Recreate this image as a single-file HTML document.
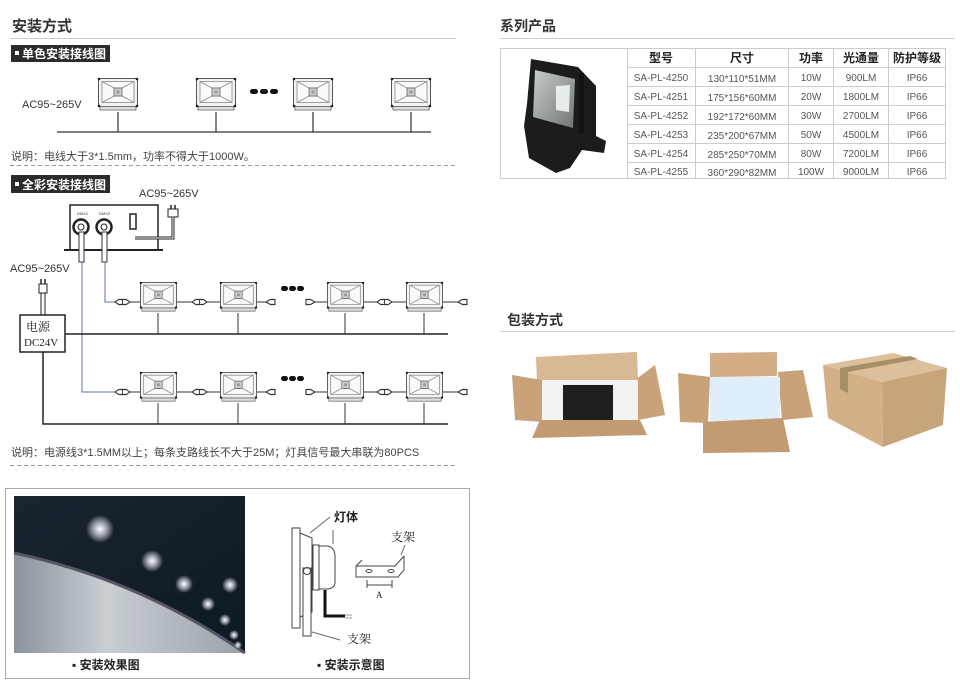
<!DOCTYPE html>
<html><head><meta charset="utf-8"><style>
body{margin:0;background:#fff;}
svg{display:block;font-family:"Liberation Sans","Noto Sans CJK SC",sans-serif;}
</style></head><body>
<svg width="960" height="691" viewBox="0 0 960 691" xmlns="http://www.w3.org/2000/svg">
<defs>
<symbol id="lamp" viewBox="0 0 40 34" overflow="visible" preserveAspectRatio="none">
<rect x="0.5" y="0.5" width="39" height="28" fill="#f3f3f3" stroke="#555" stroke-width="1"/>
<rect x="2" y="28.5" width="36" height="3.5" fill="#ddd" stroke="#666" stroke-width="0.8"/>
<rect x="4" y="3.5" width="32" height="21" fill="#fafafa" stroke="#888" stroke-width="0.8"/>
<path d="M4 3.5 L16 10 L24 10 L36 3.5 M4 24.5 L16 18 L24 18 L36 24.5" stroke="#888" stroke-width="0.8" fill="none"/>
<rect x="16" y="10" width="8" height="8" fill="#ccc" stroke="#666" stroke-width="0.8"/>
<rect x="18.5" y="12.5" width="3" height="3" fill="#999"/>
<circle cx="1" cy="1" r="1.3" fill="#222"/><circle cx="39" cy="1" r="1.3" fill="#222"/>
<circle cx="1" cy="28" r="1.3" fill="#222"/><circle cx="39" cy="28" r="1.3" fill="#222"/>
</symbol>
<symbol id="conn" viewBox="0 0 20 6" overflow="visible" preserveAspectRatio="none">
<path d="M0 3 L5 0.5 L15 0.5 L20 3 L15 5.5 L5 5.5 Z" fill="#fff" stroke="#333" stroke-width="1.2"/>
<line x1="10" y1="0.5" x2="10" y2="5.5" stroke="#333" stroke-width="1.2"/>
</symbol>
<symbol id="half" viewBox="0 0 10 6" overflow="visible" preserveAspectRatio="none">
<path d="M0 3 L5 0.5 L10 0.5 L10 5.5 L5 5.5 Z" fill="#fff" stroke="#333" stroke-width="1.2"/>
</symbol>
<linearGradient id="tun" x1="0" y1="0" x2="1" y2="1"><stop offset="0" stop-color="#1a2430"/><stop offset="1" stop-color="#0d1a22"/></linearGradient>
<linearGradient id="wall" x1="0" y1="0" x2="1" y2="0"><stop offset="0" stop-color="#8a949c"/><stop offset="0.4" stop-color="#c8ced2"/><stop offset="1" stop-color="#9aa2a8"/></linearGradient>
<radialGradient id="glow"><stop offset="0" stop-color="#fff"/><stop offset="0.4" stop-color="#eef" stop-opacity="0.7"/><stop offset="1" stop-color="#fff" stop-opacity="0"/></radialGradient>
<linearGradient id="refl" x1="0" y1="0" x2="1" y2="1"><stop offset="0" stop-color="#c8cccc"/><stop offset="1" stop-color="#6f7575"/></linearGradient>
</defs>

<text x="12" y="31" font-size="15" font-weight="bold" fill="#333">安装方式</text>
<line x1="10" y1="38.5" x2="456" y2="38.5" stroke="#ccc"/>
<rect x="11" y="45" width="99" height="17" fill="#2b2b2b"/>
<rect x="15" y="51" width="4" height="4" fill="#fff"/>
<text x="22" y="58" font-size="12" font-weight="bold" fill="#fff">单色安装接线图</text>

<text x="22" y="108" font-size="11" fill="#333">AC95~265V</text>
<use href="#lamp" x="98" y="78" width="40" height="34"/>
<use href="#lamp" x="196" y="78" width="40" height="34"/>
<use href="#lamp" x="293" y="78" width="40" height="34"/>
<use href="#lamp" x="391" y="78" width="40" height="34"/>
<g stroke="#333" stroke-width="1.2">
<line x1="57" y1="132" x2="431" y2="132"/>
<line x1="118" y1="112" x2="118" y2="132"/><line x1="216" y1="112" x2="216" y2="132"/>
<line x1="313" y1="112" x2="313" y2="132"/><line x1="411" y1="112" x2="411" y2="132"/>
</g>
<g fill="#111"><rect x="250" y="89" width="8" height="5" rx="2.5"/><rect x="260" y="89" width="8" height="5" rx="2.5"/><rect x="270" y="89" width="8" height="5" rx="2.5"/></g>
<text x="11" y="160" font-size="11" fill="#444">说明：电线大于3*1.5mm，功率不得大于1000W。</text>
<line x1="10" y1="165.5" x2="455" y2="165.5" stroke="#999" stroke-dasharray="4,3"/>

<rect x="11" y="175" width="99" height="18" fill="#2b2b2b"/>
<rect x="15" y="182" width="4" height="4" fill="#fff"/>
<text x="22" y="189" font-size="12" font-weight="bold" fill="#fff">全彩安装接线图</text>
<text x="139" y="197" font-size="11" fill="#333">AC95~265V</text>

<rect x="70" y="205" width="88" height="45" fill="#fff" stroke="#222" stroke-width="1.5"/>
<line x1="64" y1="250" x2="163" y2="250" stroke="#222" stroke-width="2"/>
<text x="77" y="215" font-size="4" fill="#333">DMX1</text><text x="99" y="215" font-size="4" fill="#333">DMX2</text>
<circle cx="81" cy="227" r="7.5" fill="#fff" stroke="#222" stroke-width="2.5"/><circle cx="81" cy="227" r="3" fill="#fff" stroke="#222"/>
<circle cx="104" cy="227" r="7.5" fill="#fff" stroke="#222" stroke-width="2.5"/><circle cx="104" cy="227" r="3" fill="#fff" stroke="#222"/>
<rect x="130" y="214" width="6" height="15" fill="#fff" stroke="#222" stroke-width="1.5"/>
<path d="M171 205 v4 M175 205 v4" stroke="#222" stroke-width="1.5"/>
<rect x="168" y="209" width="10" height="8" fill="#fff" stroke="#222"/>
<path d="M173 217 V238 H135" stroke="#222" stroke-width="3" fill="none"/>
<path d="M173 217 V238 H135" stroke="#fff" stroke-width="1" fill="none"/>
<rect x="79" y="232" width="5" height="30" fill="#fff" stroke="#333"/>
<rect x="102" y="232" width="5" height="30" fill="#fff" stroke="#333"/>
<path d="M105 262 V302 H117" stroke="#6070b0" fill="none"/>
<path d="M82 262 V392 H117" stroke="#6070b0" fill="none"/>

<text x="10" y="272" font-size="11" fill="#333">AC95~265V</text>
<path d="M41 279 v5 M45 279 v5" stroke="#222" stroke-width="1.5"/>
<rect x="39" y="284" width="8" height="9" fill="#fff" stroke="#222"/>
<rect x="41" y="293" width="4" height="22" fill="#fff" stroke="#222"/>
<rect x="20" y="315" width="45" height="37" fill="#fff" stroke="#222" stroke-width="1.5"/>
<text x="26" y="331" font-size="12" fill="#222" font-family="Liberation Serif,Noto Serif CJK SC,serif">电源</text>
<text x="24" y="346" font-size="11" fill="#222" font-family="Liberation Serif,serif">DC24V</text>
<g stroke="#222" stroke-width="1.5" fill="none">
<line x1="65" y1="334" x2="448" y2="334"/>
<path d="M43 352 V424 H448"/>
</g>
<g stroke="#333" stroke-width="1">
<line x1="158" y1="313" x2="158" y2="334"/><line x1="238" y1="313" x2="238" y2="334"/><line x1="345" y1="313" x2="345" y2="334"/><line x1="424" y1="313" x2="424" y2="334"/>
<line x1="158" y1="403" x2="158" y2="424"/><line x1="238" y1="403" x2="238" y2="424"/><line x1="345" y1="403" x2="345" y2="424"/><line x1="424" y1="403" x2="424" y2="424"/>
<line x1="117" y1="302" x2="466" y2="302"/><line x1="117" y1="392" x2="466" y2="392"/>
</g>
<g>
<use href="#lamp" x="140" y="282" width="37" height="31"/><use href="#lamp" x="220" y="282" width="37" height="31"/>
<use href="#lamp" x="327" y="282" width="37" height="31"/><use href="#lamp" x="406" y="282" width="37" height="31"/>
<use href="#lamp" x="140" y="372" width="37" height="31"/><use href="#lamp" x="220" y="372" width="37" height="31"/>
<use href="#lamp" x="327" y="372" width="37" height="31"/><use href="#lamp" x="406" y="372" width="37" height="31"/>
</g>
<rect x="268" y="296" width="40" height="12" fill="#fff"/>
<rect x="268" y="386" width="40" height="12" fill="#fff"/>
<g>
<use href="#conn" x="115" y="299" width="15" height="6"/><use href="#conn" x="192" y="299" width="15" height="6"/>
<use href="#half" x="266" y="299" width="9" height="6"/><use href="#half" x="306" y="299" width="9" height="6" transform="translate(621 0) scale(-1 1)"/>
<use href="#conn" x="377" y="299" width="15" height="6"/><use href="#half" x="458" y="299" width="9" height="6"/>
<use href="#conn" x="115" y="389" width="15" height="6"/><use href="#conn" x="192" y="389" width="15" height="6"/>
<use href="#half" x="266" y="389" width="9" height="6"/><use href="#half" x="306" y="389" width="9" height="6" transform="translate(621 0) scale(-1 1)"/>
<use href="#conn" x="377" y="389" width="15" height="6"/><use href="#half" x="458" y="389" width="9" height="6"/>
</g>
<g fill="#111">
<rect x="281" y="286" width="7" height="5" rx="2.5"/><rect x="289" y="286" width="7" height="5" rx="2.5"/><rect x="297" y="286" width="7" height="5" rx="2.5"/>
<rect x="281" y="376" width="7" height="5" rx="2.5"/><rect x="289" y="376" width="7" height="5" rx="2.5"/><rect x="297" y="376" width="7" height="5" rx="2.5"/>
</g>
<text x="11" y="456" font-size="11" fill="#444">说明：电源线3*1.5MM以上；每条支路线长不大于25M；灯具信号最大串联为80PCS</text>
<line x1="10" y1="465.5" x2="455" y2="465.5" stroke="#999" stroke-dasharray="4,3"/>

<rect x="5.5" y="488.5" width="464" height="190" fill="#fff" stroke="#aaa"/>
<rect x="14" y="496" width="231" height="157" fill="url(#tun)"/>
<path d="M14 553 Q140 580 245 653 L14 653 Z" fill="url(#wall)"/>
<path d="M14 553 Q140 580 245 653" stroke="#556" stroke-width="3" fill="none"/>
<g fill="url(#glow)">
<circle cx="100" cy="529" r="14"/><circle cx="152" cy="561" r="11"/><circle cx="184" cy="584" r="9"/><circle cx="208" cy="604" r="7"/><circle cx="225" cy="620" r="6"/><circle cx="234" cy="635" r="5"/><circle cx="238" cy="645" r="4"/>
<circle cx="230" cy="585" r="8"/>
</g>
<text x="72" y="669" font-size="12" font-weight="bold" fill="#222">▪ 安装效果图</text>

<g stroke="#444" fill="none" stroke-width="1">
<rect x="292" y="528" width="8" height="100" fill="#fff"/>
<path d="M300 533 L312 538 L312 612 L300 617"/>
<rect x="303" y="568" width="8" height="68" fill="#fff"/>
<circle cx="307" cy="571" r="3.5"/>
<rect x="313" y="545" width="6" height="45" fill="#fff"/>
<path d="M319 546 H328 Q335 548 335 556 V582 Q335 588 328 589 H319"/>
<path d="M325 590 V616 H345" stroke="#111" stroke-width="3"/>
<path d="M345 615 H352 M345 618 H352" stroke="#999"/>
<path d="M356 566 L362 560 M356 566 H395 L404 556 M356 566 V577 H398 L404 570 V556"/>
<ellipse cx="369" cy="571" rx="3" ry="1.5"/><ellipse cx="391" cy="571" rx="3" ry="1.5"/>
<path d="M367 585 H392 M367 580 V588 M392 580 V588"/>
<path d="M310 533 L330 517 M333 530 V544 M312 632 L340 640 M401 555 L405 545" stroke="#666"/>
</g>
<text x="334" y="521" font-size="12" font-weight="bold" fill="#222">灯体</text>
<text x="391" y="541" font-size="12" fill="#222" font-family="Liberation Serif,Noto Serif CJK SC,serif">支架</text>
<text x="347" y="643" font-size="12" fill="#222" font-family="Liberation Serif,Noto Serif CJK SC,serif">支架</text>
<text x="376" y="598" font-size="9" fill="#222" font-family="Liberation Serif,serif">A</text>
<text x="317" y="669" font-size="12" font-weight="bold" fill="#222">▪ 安装示意图</text>

<text x="500" y="31" font-size="14" font-weight="bold" fill="#333">系列产品</text>
<line x1="500" y1="38.5" x2="955" y2="38.5" stroke="#ccc"/>
<rect x="500.5" y="48.5" width="445" height="130" fill="#fff" stroke="#ccc"/>
<g stroke="#ccc">
<line x1="627.5" y1="48" x2="627.5" y2="179"/><line x1="695.5" y1="48" x2="695.5" y2="179"/>
<line x1="788.5" y1="48" x2="788.5" y2="179"/><line x1="833.5" y1="48" x2="833.5" y2="179"/>
<line x1="888.5" y1="48" x2="888.5" y2="179"/>
<line x1="627" y1="67.5" x2="946" y2="67.5"/><line x1="627" y1="86.5" x2="946" y2="86.5"/>
<line x1="627" y1="105.5" x2="946" y2="105.5"/><line x1="627" y1="124.5" x2="946" y2="124.5"/>
<line x1="627" y1="143.5" x2="946" y2="143.5"/><line x1="627" y1="162.5" x2="946" y2="162.5"/>
</g>
<g font-size="12" font-weight="bold" fill="#222" text-anchor="middle">
<text x="661" y="62">型号</text><text x="742" y="62">尺寸</text><text x="811" y="62">功率</text><text x="861" y="62">光通量</text><text x="917" y="62">防护等级</text>
</g>
<g font-size="10" fill="#555" text-anchor="middle">
<text x="661" y="81">SA-PL-4250</text><text x="742" y="82">130*110*51MM</text><text x="811" y="81">10W</text><text x="861" y="81">900LM</text><text x="917" y="81">IP66</text>
<text x="661" y="100">SA-PL-4251</text><text x="742" y="101">175*156*60MM</text><text x="811" y="100">20W</text><text x="861" y="100">1800LM</text><text x="917" y="100">IP66</text>
<text x="661" y="119">SA-PL-4252</text><text x="742" y="120">192*172*60MM</text><text x="811" y="119">30W</text><text x="861" y="119">2700LM</text><text x="917" y="119">IP66</text>
<text x="661" y="138">SA-PL-4253</text><text x="742" y="139">235*200*67MM</text><text x="811" y="138">50W</text><text x="861" y="138">4500LM</text><text x="917" y="138">IP66</text>
<text x="661" y="157">SA-PL-4254</text><text x="742" y="158">285*250*70MM</text><text x="811" y="157">80W</text><text x="861" y="157">7200LM</text><text x="917" y="157">IP66</text>
<text x="661" y="175">SA-PL-4255</text><text x="742" y="176">360*290*82MM</text><text x="811" y="175">100W</text><text x="861" y="175">9000LM</text><text x="917" y="175">IP66</text>
</g>
<path d="M531 59 L578 67 L596 86 L596 136 L606 141 L604 153 L582 150 L570 168 L556 173 L529 158 L524 126 L527 104 Z" fill="#1c1c1c"/>
<path d="M535 70 L575 79 L573 128 L533 117 Z" fill="url(#refl)"/>
<path d="M556 86 L570 85 L569 112 L556 110 Z" fill="#e4ecec"/>
<rect x="579" y="73" width="5" height="60" fill="#111"/>

<text x="507" y="325" font-size="14" font-weight="bold" fill="#333">包装方式</text>
<line x1="500" y1="331.5" x2="955" y2="331.5" stroke="#ccc"/>
<polygon points="536,357 637,352 638,380 537,382" fill="#d9b993"/>
<polygon points="512,375 542,380 542,422 515,420" fill="#c9a27a"/>
<polygon points="635,380 655,365 665,415 638,420" fill="#c9a27a"/>
<rect x="542" y="380" width="96" height="42" fill="#f2f2f2"/>
<rect x="563" y="385" width="50" height="37" fill="#1e1e1e"/>
<polygon points="540,420 640,420 647,435 532,438" fill="#c29b73"/>
<polygon points="710,353 777,352 777,376 710,377" fill="#d2ad85"/>
<polygon points="678,373 710,377 708,423 680,422" fill="#c9a27a"/>
<polygon points="778,372 803,370 813,417 782,420" fill="#c9a27a"/>
<rect x="710" y="377" width="70" height="45" fill="#dfeef8"/>
<polygon points="703,422 783,418 790,452 703,453" fill="#c29b73"/>
<polygon points="823,365 893,353 947,368 882,382" fill="#dcc09c"/>
<polygon points="823,365 882,382 883,447 828,418" fill="#d3b087"/>
<polygon points="882,382 947,368 943,425 883,447" fill="#c8a47a"/>
<polygon points="840,368 910,356 918,359 848,372" fill="#a88e66"/>
<polygon points="840,368 848,372 848,393 840,389" fill="#a88e66"/>
</svg>
</body></html>
